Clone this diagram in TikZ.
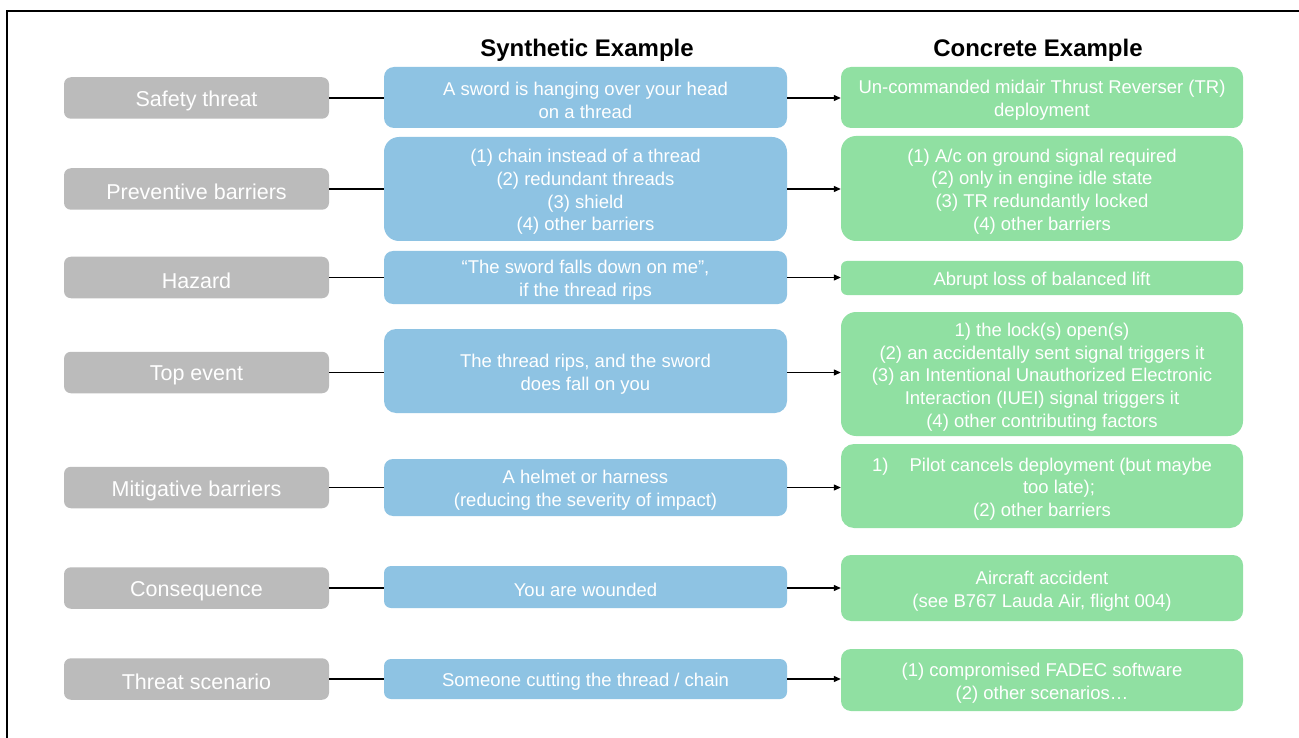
\documentclass[tikz,border=0pt]{standalone}
\usepackage{fontspec}
\setmainfont{Liberation Sans}
\usetikzlibrary{arrows.meta}
\definecolor{labelgrey}{HTML}{BBBBBB}
\definecolor{synblue}{HTML}{8EC3E3}
\definecolor{congreen}{HTML}{90E0A2}
\begin{document}
\begin{tikzpicture}[x=1pt,y=-1pt,
  box/.style={draw=none, inner sep=0pt},
  rowlabel/.style={box, fill=labelgrey, minimum width=265pt, minimum height=41.5pt,
    rounded corners=7pt},
  synbox/.style={box, fill=synblue, minimum width=403pt},
  conbox/.style={box, fill=congreen, minimum width=402pt},
  txt/.style={inner sep=0pt, align=center, text=white, yshift=-3pt,
    font=\fontsize{18.5}{22.7}\selectfont},
  labeltxt/.style={txt, font=\fontsize{21.5}{25}\selectfont},
  header/.style={font=\fontsize{24}{28}\selectfont\bfseries, text=black, inner sep=0pt},
  conn/.style={draw=black, line width=1.2pt},
  arr/.style={conn, -{Triangle[length=7pt,width=6pt]}}]

\useasboundingbox (0,0) rectangle (1299,738);
\fill[white] (0,0) rectangle (1299,738);

% open frame along the top and left edges
\draw[line width=2pt] (1299,11) -- (7,11) -- (7,738);

% column headers
\node[header] (hsyn) at (587,50) {Synthetic Example};
\node[header] (hcon) at (1038,50) {Concrete Example};

% row labels
\node[rowlabel] (g1) at (196.5,98)   {};
\node[rowlabel] (g2) at (196.5,189)  {};
\node[rowlabel] (g3) at (196.5,277.5){};
\node[rowlabel] (g4) at (196.5,372.5){};
\node[rowlabel] (g5) at (196.5,487.5){};
\node[rowlabel] (g6) at (196.5,588)  {};
\node[rowlabel] (g7) at (196.5,679)  {};
\node[labeltxt] (g1t) at (g1) {Safety threat};
\node[labeltxt] (g2t) at (g2) {Preventive barriers};
\node[labeltxt] (g3t) at (g3) {Hazard};
\node[labeltxt] (g4t) at (g4) {Top event};
\node[labeltxt] (g5t) at (g5) {Mitigative barriers};
\node[labeltxt] (g6t) at (g6) {Consequence};
\node[labeltxt] (g7t) at (g7) {Threat scenario};

% synthetic example column
\node[synbox, minimum height=61pt,  rounded corners=10pt] (b1) at (585.5,97.5)  {};
\node[synbox, minimum height=104pt, rounded corners=15pt] (b2) at (585.5,189)   {};
\node[synbox, minimum height=53pt,  rounded corners=9pt]  (b3) at (585.5,277.5) {};
\node[synbox, minimum height=84pt,  rounded corners=12pt] (b4) at (585.5,371)   {};
\node[synbox, minimum height=57pt,  rounded corners=9pt]  (b5) at (585.5,487.5) {};
\node[synbox, minimum height=42pt,  rounded corners=7pt]  (b6) at (585.5,587)   {};
\node[synbox, minimum height=40pt,  rounded corners=7pt]  (b7) at (585.5,679)   {};
\node[txt] (b1t) at (b1) {A sword is hanging over your head\\on a thread};
\node[txt] (b2t) at (b2) {(1) chain instead of a thread\\(2) redundant threads\\(3) shield\\(4) other barriers};
\node[txt] (b3t) at (b3) {“The sword falls down on me”,\\if the thread rips};
\node[txt] (b4t) at (b4) {The thread rips, and the sword\\does fall on you};
\node[txt] (b5t) at (b5) {A helmet or harness\\(reducing the severity of impact)};
\node[txt] (b6t) at (b6) {You are wounded};
\node[txt] (b7t) at (b7) {Someone cutting the thread / chain};

% concrete example column
\node[conbox, minimum height=61pt,  rounded corners=10pt] (c1) at (1042,97.5)  {};
\node[conbox, minimum height=105pt, rounded corners=15pt] (c2) at (1042,188.5) {};
\node[conbox, minimum height=34pt,  rounded corners=6pt]  (c3) at (1042,278)   {};
\node[conbox, minimum height=124pt, rounded corners=15pt] (c4) at (1042,374)   {};
\node[conbox, minimum height=84pt,  rounded corners=13pt] (c5) at (1042,486)   {};
\node[conbox, minimum height=66pt,  rounded corners=10pt] (c6) at (1042,588)   {};
\node[conbox, minimum height=62pt,  rounded corners=10pt] (c7) at (1042,680)   {};
\node[txt] (c1t) at (c1) {Un-commanded midair Thrust Reverser (TR)\\deployment};
\node[txt] (c2t) at (c2) {(1) A/c on ground signal required\\(2) only in engine idle state\\(3) TR redundantly locked\\(4) other barriers};
\node[txt] (c3t) at (c3) {Abrupt loss of balanced lift};
\node[txt] (c4t) at (c4) {1) the lock(s) open(s)\\(2) an accidentally sent signal triggers it\\(3) an Intentional Unauthorized Electronic\\Interaction (IUEI) signal triggers it\\(4) other contributing factors};
\node[txt] (c5t) at (c5) {1)\hspace{21pt}Pilot cancels deployment (but maybe\\\hspace*{34pt}too late);\\(2) other barriers};
\node[txt] (c6t) at (c6) {Aircraft accident\\(see B767 Lauda Air, flight 004)};
\node[txt] (c7t) at (c7) {(1) compromised FADEC software\\(2) other scenarios…};

% connectors: label -> synthetic -> concrete
\foreach \i in {1,...,7}{
  \draw[conn] (g\i.east) -- (g\i.east -| b\i.west);
  \draw[arr] (g\i.east -| b\i.east) -- (g\i.east -| c\i.west);
}
\end{tikzpicture}
\end{document}
